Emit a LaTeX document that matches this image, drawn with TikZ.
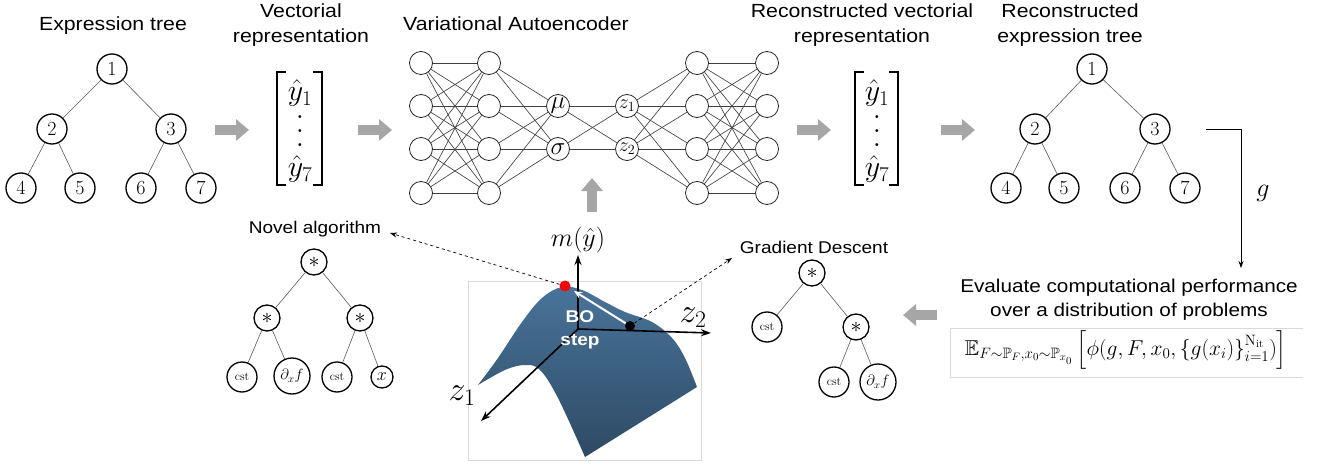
\RequirePackage{fix-cm}
\documentclass[tikz,border=0pt]{standalone}
\usepackage[no-math]{fontspec}
\setmainfont{Liberation Sans}[FakeStretch=1.12]
\usepackage{amsmath,amssymb}
\usetikzlibrary{arrows.meta,calc}
\definecolor{garrow}{HTML}{A6A6A6}
\definecolor{surftop}{RGB}{72,116,154}
\definecolor{surfbot}{RGB}{46,74,100}
\definecolor{boxline}{HTML}{D9D9D9}
\newcommand{\bigvdotsx}{\vcenter{\baselineskip=14pt\lineskiplimit=0pt\hbox{$.$}\hbox{$.$}\hbox{$.$}}}
\begin{document}
\begin{tikzpicture}[x=1pt,y=-1pt,
  title/.style={font=\fontsize{19}{25}\selectfont, align=center, inner sep=0pt},
  subtitle/.style={font=\fontsize{17}{22}\selectfont, inner sep=0pt},
  tnode/.style={circle,draw,line width=1.3pt,minimum size=30pt,inner sep=0pt,fill=white,font=\fontsize{20}{20}\selectfont},
  onode/.style={circle,draw,line width=1.3pt,minimum size=26pt,inner sep=0pt,fill=white,font=\fontsize{22}{22}\selectfont},
  xnode/.style={circle,draw,line width=1.3pt,minimum size=22pt,inner sep=0pt,fill=white,font=\fontsize{18}{18}\selectfont},
  cnode/.style={circle,draw,line width=1.3pt,minimum size=30pt,inner sep=0pt,fill=white,font=\fontsize{12}{12}\selectfont},
  dnode/.style={circle,draw,line width=1.3pt,minimum size=36pt,inner sep=0pt,fill=white,font=\fontsize{15}{15}\selectfont},
  tedge/.style={draw=black!65,line width=0.6pt},
  neuron/.style={circle,draw=black!85,line width=0.8pt,minimum size=23pt,inner sep=0pt,fill=white},
  nedge/.style={draw=black!75,line width=0.65pt},
  garrowst/.style={draw=garrow,line width=10pt,-{Triangle[length=13pt,width=21pt]}},
  dasharrow/.style={dashed,line width=0.7pt,-{Stealth[length=7pt,width=5pt]}},
  axis/.style={line width=1.6pt,-{Stealth[length=10pt,width=7pt]}},
  bracketst/.style={line width=1.6pt},
  vecentry/.style={font=\fontsize{30}{30}\selectfont, inner sep=0pt}
]
\useasboundingbox (0,0) rectangle (1322,468);

% ---------- titles ----------
\node[title,anchor=base] (tExpr) at (113,31) {Expression tree};
\node[title,anchor=base] (tVec) at (301,43) {Vectorial\\representation};
\node[title,anchor=base] (tVAE) at (516,31) {Variational Autoencoder};
\node[title,anchor=base] (tRVec) at (862,43) {Reconstructed vectorial\\representation};
\node[title,anchor=base] (tRExpr) at (1070,43) {Reconstructed\\expression tree};

% ---------- expression tree (left) ----------
\node[tnode] (a1) at (112,69) {$1$};
\node[tnode] (a2) at (52,129) {$2$};
\node[tnode] (a3) at (171,129) {$3$};
\node[tnode] (a4) at (21,188) {$4$};
\node[tnode] (a5) at (80,188) {$5$};
\node[tnode] (a6) at (141,188) {$6$};
\node[tnode] (a7) at (201,188) {$7$};
\draw[tedge] (a1) -- (a2); \draw[tedge] (a1) -- (a3);
\draw[tedge] (a2) -- (a4); \draw[tedge] (a2) -- (a5);
\draw[tedge] (a3) -- (a6); \draw[tedge] (a3) -- (a7);

% ---------- expression tree (right) ----------
\node[tnode] (b1) at (1092,69) {$1$};
\node[tnode] (b2) at (1035,129) {$2$};
\node[tnode] (b3) at (1155,129) {$3$};
\node[tnode] (b4) at (1006,188) {$4$};
\node[tnode] (b5) at (1064,188) {$5$};
\node[tnode] (b6) at (1125,188) {$6$};
\node[tnode] (b7) at (1185,188) {$7$};
\draw[tedge] (b1) -- (b2); \draw[tedge] (b1) -- (b3);
\draw[tedge] (b2) -- (b4); \draw[tedge] (b2) -- (b5);
\draw[tedge] (b3) -- (b6); \draw[tedge] (b3) -- (b7);

% ---------- vectors ----------
\draw[bracketst] (286,72) -- (277,72) -- (277,185) -- (286,185);
\draw[bracketst] (313,72) -- (322,72) -- (322,185) -- (313,185);
\node[vecentry] (v1) at (300,93) {$\hat{y}_1$};
\node[vecentry] (vd) at (300,131) {$\bigvdotsx$};
\node[vecentry] (v7) at (300,169) {$\hat{y}_7$};

\draw[bracketst] (864,72) -- (855,72) -- (855,185) -- (864,185);
\draw[bracketst] (889,72) -- (898,72) -- (898,185) -- (889,185);
\node[vecentry] (w1) at (877,93) {$\hat{y}_1$};
\node[vecentry] (wd) at (877,131) {$\bigvdotsx$};
\node[vecentry] (w7) at (877,169) {$\hat{y}_7$};

% ---------- gray block arrows ----------
\coordinate (g1s) at (215,130); \coordinate (g1e) at (249,130);
\coordinate (g2s) at (358,130); \coordinate (g2e) at (392,130);
\coordinate (g3s) at (797,130); \coordinate (g3e) at (831,130);
\coordinate (g4s) at (941,130); \coordinate (g4e) at (975,130);
\coordinate (g5s) at (592,212); \coordinate (g5e) at (592,178);
\coordinate (g6s) at (937,315); \coordinate (g6e) at (903,315);
\foreach \k in {1,...,6} \draw[garrowst] (g\k s) -- (g\k e);

% ---------- VAE ----------
\foreach \i/\yy in {1/63,2/106,3/149,4/193} {
  \node[neuron] (L\i) at (421,\yy) {};
  \node[neuron] (M\i) at (489,\yy) {};
  \node[neuron] (R\i) at (697,\yy) {};
  \node[neuron] (S\i) at (767,\yy) {};
}
\node[neuron,font=\fontsize{25}{25}\selectfont] (mu) at (558,106) {$\mu$};
\node[neuron,font=\fontsize{25}{25}\selectfont] (sg) at (558,149) {$\sigma$};
\node[neuron,font=\fontsize{20}{20}\selectfont] (z1) at (627,106) {$z_1$};
\node[neuron,font=\fontsize{20}{20}\selectfont] (z2) at (627,149) {$z_2$};
\foreach \i in {1,...,4} {
  \foreach \j in {1,...,4} {
    \draw[nedge] (L\i) -- (M\j);
    \draw[nedge] (R\i) -- (S\j);
  }
  \draw[nedge] (M\i) -- (mu); \draw[nedge] (M\i) -- (sg);
  \draw[nedge] (z1) -- (R\i); \draw[nedge] (z2) -- (R\i);
}
\draw[nedge] (mu) -- (z1); \draw[nedge] (mu) -- (z2);
\draw[nedge] (sg) -- (z1); \draw[nedge] (sg) -- (z2);

% ---------- g connector ----------
\coordinate (gs) at (1206,129);
\coordinate (gc) at (1241,129);
\coordinate (ge) at (1241,268);
\draw[line width=0.8pt,-{Stealth[length=7pt,width=5pt]}] (gs) -- (gc) -- (ge);
\node[font=\fontsize{26}{26}\selectfont] (glab) at (1263,193) {$g$};

% ---------- evaluation ----------
\node[font=\fontsize{18.5}{24}\selectfont, align=center, inner sep=0pt, anchor=base] (eval) at (1129,316) {Evaluate computational performance\\over a distribution of problems};
\draw[boxline,line width=0.8pt] (1303,328) -- (950,328) -- (950,377) -- (1303,377);
\node[font=\fontsize{21.5}{21.5}\selectfont, inner sep=0pt] (formula) at (1126,350) {$\mathbb{E}_{F\sim\mathbb{P}_F,x_0\sim\mathbb{P}_{x_0}}\left[\phi(g,F,x_0,\{g(x_i)\}_{i=1}^{\mathrm{N_{it}}})\right]$};

% ---------- Gradient descent tree ----------
\node[subtitle,anchor=base] (tGD) at (814,253) {Gradient Descent};
\node[onode] (d1) at (812,273) {$\ast$};
\node[cnode] (d2) at (767,327) {$\mathrm{cst}$};
\node[onode] (d3) at (856,327) {$\ast$};
\node[cnode] (d4) at (834,382) {$\mathrm{cst}$};
\node[dnode] (d5) at (878,382) {$\partial_x f$};
\draw[tedge] (d1) -- (d2); \draw[tedge] (d1) -- (d3);
\draw[tedge] (d3) -- (d4); \draw[tedge] (d3) -- (d5);

% ---------- Novel algorithm tree ----------
\node[subtitle,anchor=base] (tNA) at (315,233) {Novel algorithm};
\node[onode] (n1) at (314,262) {$\ast$};
\node[onode] (n2) at (267,318) {$\ast$};
\node[onode] (n3) at (360,318) {$\ast$};
\node[cnode] (n4) at (242,377) {$\mathrm{cst}$};
\node[dnode] (n5) at (292,376) {$\partial_x f$};
\node[cnode] (n6) at (337,377) {$\mathrm{cst}$};
\node[xnode] (n7) at (382,377) {$x$};
\draw[tedge] (n1) -- (n2); \draw[tedge] (n1) -- (n3);
\draw[tedge] (n2) -- (n4); \draw[tedge] (n2) -- (n5);
\draw[tedge] (n3) -- (n6); \draw[tedge] (n3) -- (n7);

% ---------- surface ----------
\draw[black!15,line width=0.8pt] (468,281) rectangle (701,460);
\shade[top color=surftop,bottom color=surfbot]
  plot[smooth,tension=0.6] coordinates {(478,385) (498,358) (522,322) (542,298) (562,287) (582,290) (605,302) (625,312) (652,322) (672,338) (685,358) (697,387)}
  -- (585,457)
  -- plot[smooth,tension=0.6] coordinates {(585,457) (558,398) (540,370) (525,365) (505,370) (478,385)}
  -- cycle;

\coordinate (orig) at (578,329);
\coordinate (ztop) at (578,255);
\coordinate (zright) at (711,333);
\coordinate (zleft) at (481,421);
\draw[axis] (orig) -- (ztop);
\draw[axis] (orig) -- (zright);
\draw[axis] (orig) -- (zleft);
\node[font=\fontsize{26}{26}\selectfont] (mlab) at (578,240) {$m(\hat{y})$};
\node[font=\fontsize{34}{34}\selectfont] (z2lab) at (693,318) {$z_2$};
\node[font=\fontsize{34}{34}\selectfont] (z1lab) at (462,396) {$z_1$};

\node[font=\fontsize{17}{17}\selectfont\bfseries, text=white] (bo) at (580,317) {BO};
\node[font=\fontsize{17}{17}\selectfont\bfseries, text=white] (st) at (580,342) {step};

\node[circle,fill=red,minimum size=11pt,inner sep=0pt] (rdot) at (565,286) {};
\node[circle,fill=black,minimum size=10pt,inner sep=0pt] (bdot) at (630,326) {};
\coordinate (botip) at (574,291);
\draw[white,line width=2pt,-{Stealth[length=8pt,width=7pt]}] (bdot) -- (botip);

\coordinate (natip) at (390,233);
\coordinate (gdtip) at (732,258);
\draw[dasharrow] (rdot) -- (natip);
\draw[dasharrow] (bdot) -- (gdtip);
\end{tikzpicture}
\end{document}
